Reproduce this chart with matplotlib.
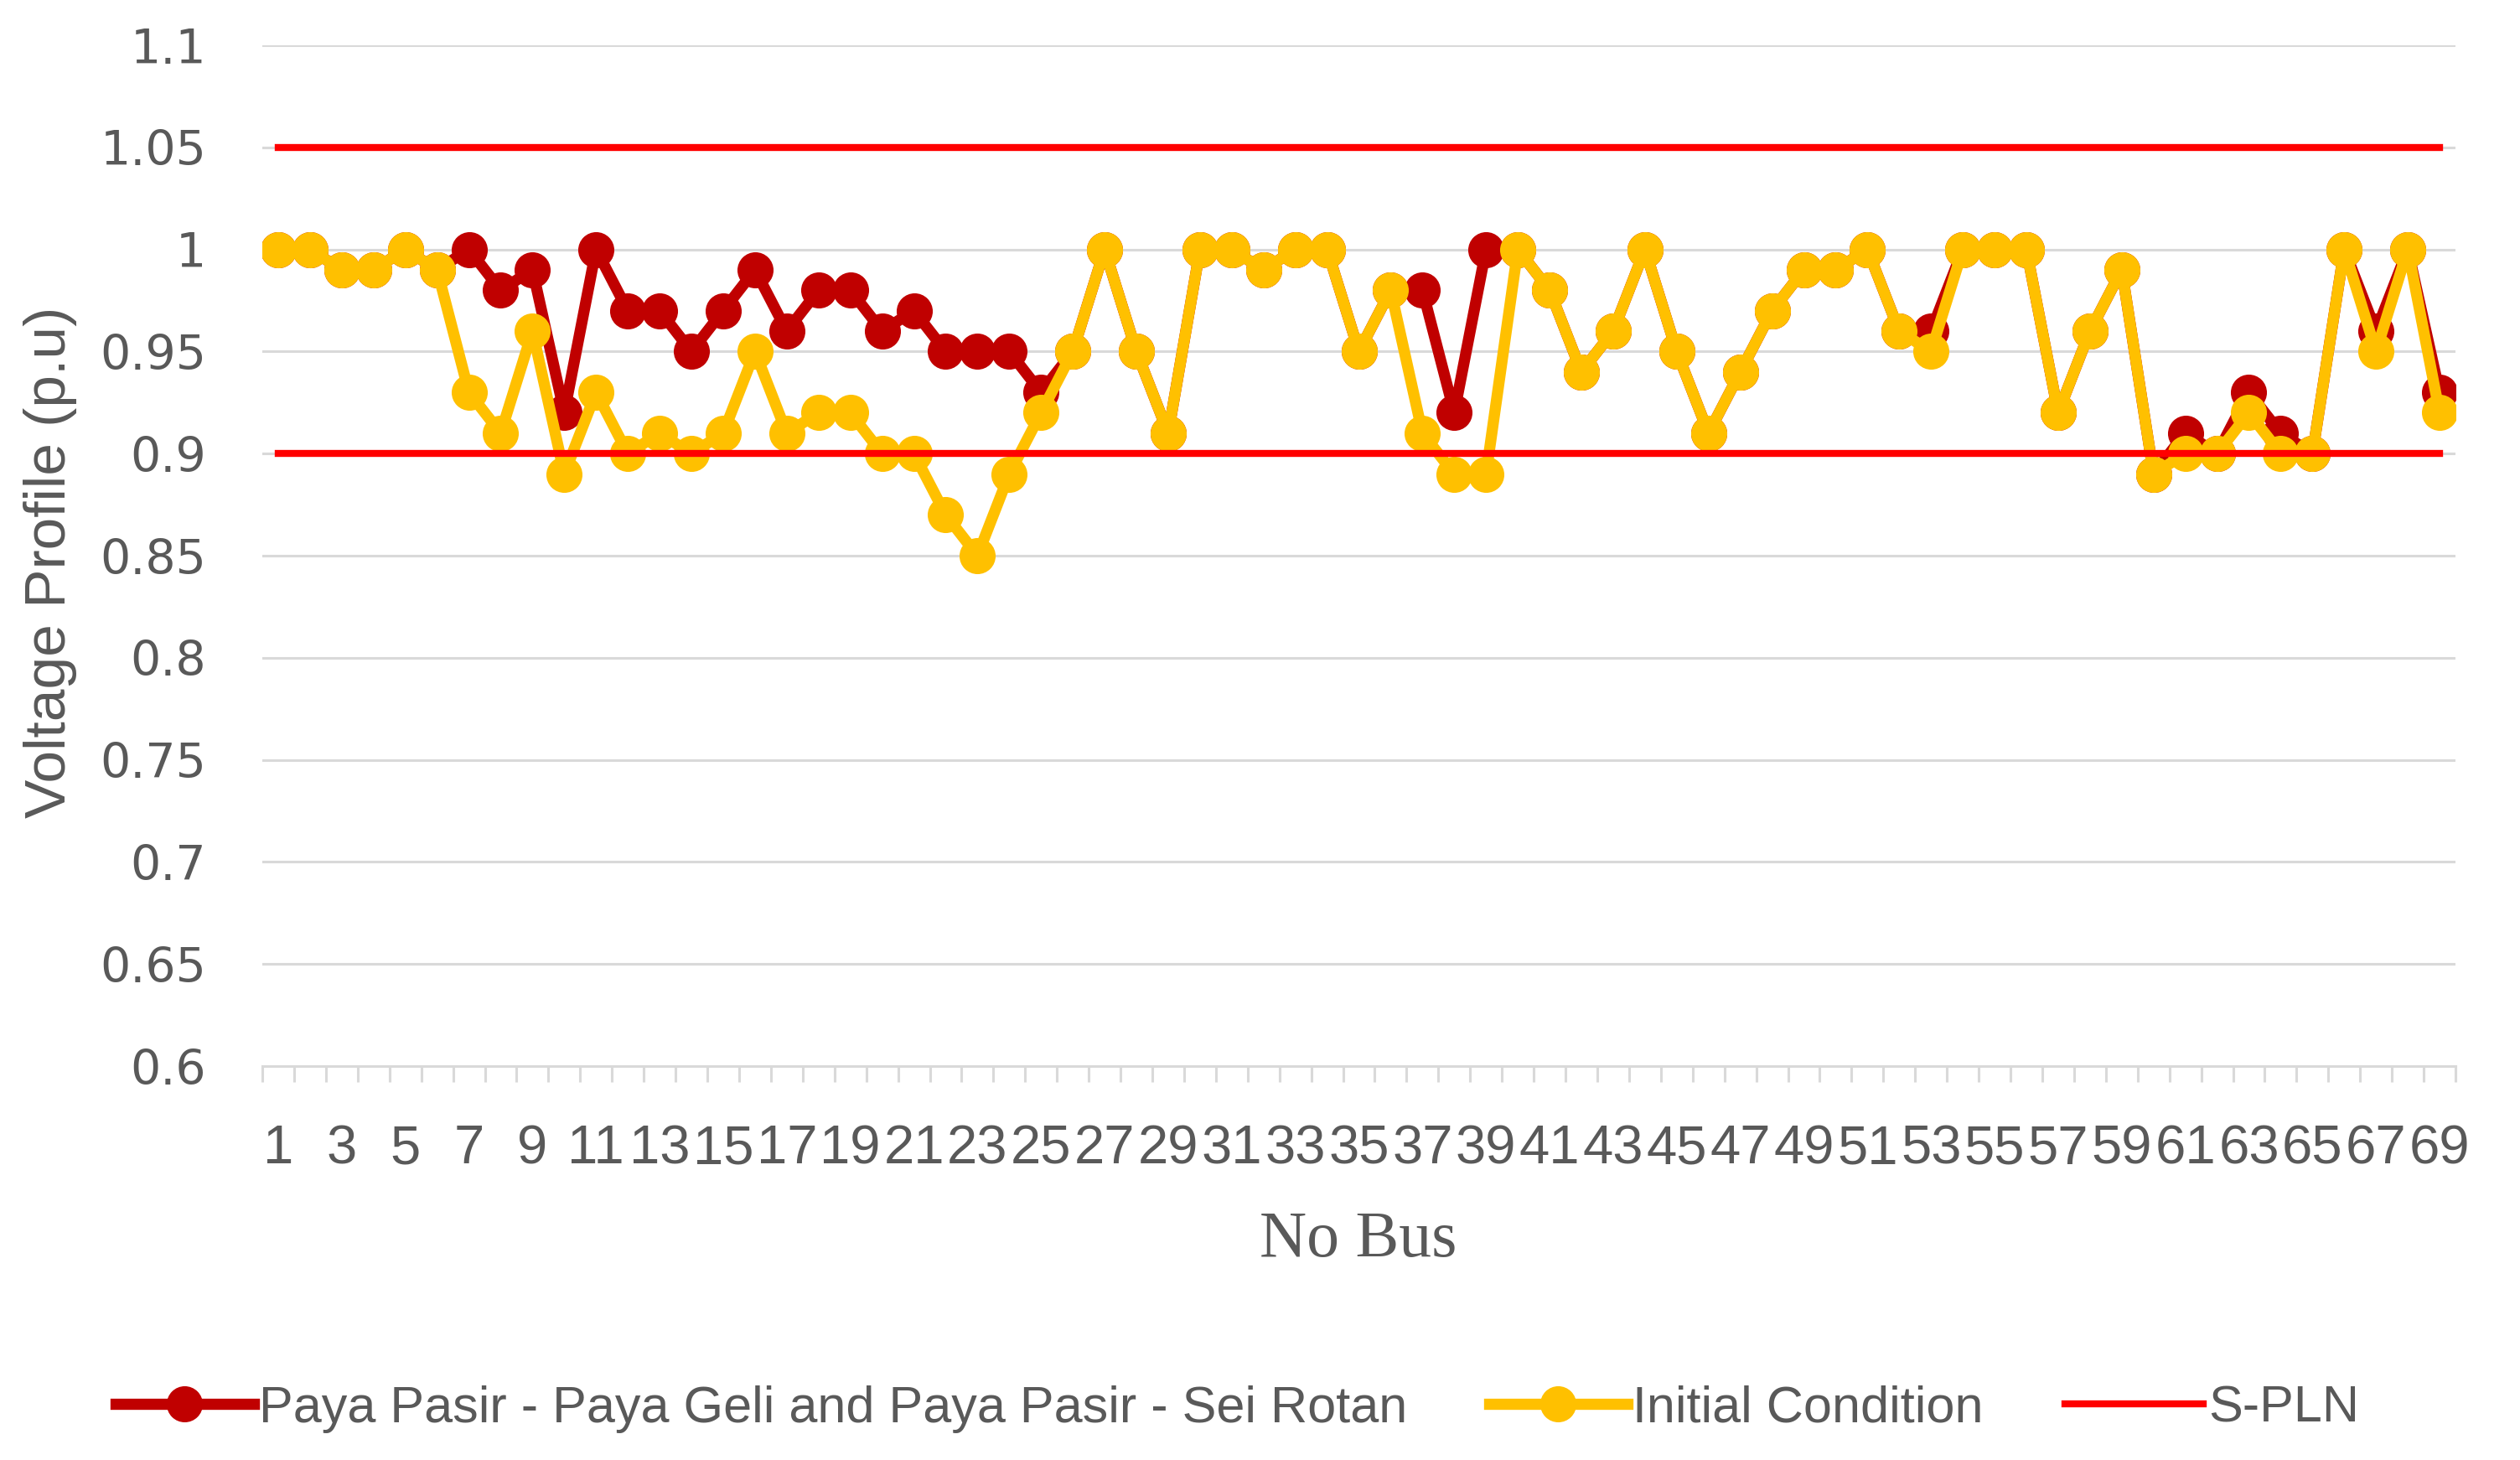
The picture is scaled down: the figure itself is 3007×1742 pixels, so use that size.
import numpy as np
import matplotlib
matplotlib.use("Agg")
import matplotlib.pyplot as plt
from matplotlib.ticker import FixedLocator

# bus numbers 1..69
bus = list(range(1, 70))

# Paya Pasir - Paya Geli and Paya Pasir - Sei Rotan
v_reconf = [1.00, 1.00, 0.99, 0.99, 1.00, 0.99, 1.00, 0.98, 0.99, 0.92,
            1.00, 0.97, 0.97, 0.95, 0.97, 0.99, 0.96, 0.98, 0.98, 0.96,
            0.97, 0.95, 0.95, 0.95, 0.93, 0.95, 1.00, 0.95, 0.91, 1.00,
            1.00, 0.99, 1.00, 1.00, 0.95, 0.98, 0.98, 0.92, 1.00, 1.00,
            0.98, 0.94, 0.96, 1.00, 0.95, 0.91, 0.94, 0.97, 0.99, 0.99,
            1.00, 0.96, 0.96, 1.00, 1.00, 1.00, 0.92, 0.96, 0.99, 0.89,
            0.91, 0.90, 0.93, 0.91, 0.90, 1.00, 0.96, 1.00, 0.93]

# Initial Condition
v_initial = [1.00, 1.00, 0.99, 0.99, 1.00, 0.99, 0.93, 0.91, 0.96, 0.89,
             0.93, 0.90, 0.91, 0.90, 0.91, 0.95, 0.91, 0.92, 0.92, 0.90,
             0.90, 0.87, 0.85, 0.89, 0.92, 0.95, 1.00, 0.95, 0.91, 1.00,
             1.00, 0.99, 1.00, 1.00, 0.95, 0.98, 0.91, 0.89, 0.89, 1.00,
             0.98, 0.94, 0.96, 1.00, 0.95, 0.91, 0.94, 0.97, 0.99, 0.99,
             1.00, 0.96, 0.95, 1.00, 1.00, 1.00, 0.92, 0.96, 0.99, 0.89,
             0.90, 0.90, 0.92, 0.90, 0.90, 1.00, 0.95, 1.00, 0.92]

# S-PLN limits
spln_upper = [1.05] * 69
spln_lower = [0.90] * 69

yticks = [0.6, 0.65, 0.7, 0.75, 0.8, 0.85, 0.9, 0.95, 1.0, 1.05, 1.1]

text_color = '#595959'
sans = ['Liberation Sans', 'DejaVu Sans']

fig = plt.figure(figsize=(15.035, 8.71), dpi=200)
ax = fig.add_axes([0.1041, 0.2698, 0.8703, 0.6992])

ax.plot(bus, v_reconf, color='#C00000', lw=4.8, marker='o', ms=14.5,
        label='Paya Pasir - Paya Geli and Paya Pasir - Sei Rotan', zorder=3)
ax.plot(bus, v_initial, color='#FFC000', lw=4.8, marker='o', ms=14.5,
        label='Initial Condition', zorder=4)
ax.plot(bus, spln_upper, color='#FF0000', lw=3.0, label='S-PLN', zorder=5)
ax.plot(bus, spln_lower, color='#FF0000', lw=3.0, zorder=5)

ax.set_xlim(0.5, 69.5)
ax.set_ylim(0.6, 1.1)
ax.set_yticks(yticks)
ax.set_yticklabels([f'{v:g}' for v in yticks])
ax.grid(axis='y', color='#D9D9D9', lw=1.1)
ax.set_axisbelow(True)

ax.set_xticks(bus[::2])
ax.set_xticklabels([str(b) for b in bus[::2]])
ax.xaxis.set_minor_locator(FixedLocator(np.arange(0.5, 70, 1)))
ax.tick_params(axis='x', which='major', length=0, pad=25, labelsize=23.5,
               labelcolor=text_color)
ax.tick_params(axis='x', which='minor', length=7, width=1.1, color='#D9D9D9')
ax.tick_params(axis='y', length=0, pad=24, labelsize=20.5, labelcolor=text_color)
for lab in ax.get_xticklabels():
    lab.set_family(sans)

for s in ['top', 'right', 'left']:
    ax.spines[s].set_visible(False)
ax.spines['bottom'].set_color('#D9D9D9')
ax.spines['bottom'].set_linewidth(1.1)

fig.text(0.020, 0.615, 'Voltage Profile (p.u)', rotation=90, ha='center',
         va='center', fontsize=25, color=text_color, family=sans)
fig.text(0.539, 0.150, 'No Bus', ha='center', va='center', fontsize=28,
         color=text_color, family=['Liberation Serif', 'DejaVu Serif'])

leg = fig.legend(loc='center', bbox_to_anchor=(0.491, 0.035), ncol=3,
                 frameon=False, handlelength=2.7, handletextpad=0.1,
                 columnspacing=1.6, prop={'family': sans, 'size': 22})
for t in leg.get_texts():
    t.set_color(text_color)

fig.savefig('out.png', dpi=200)
